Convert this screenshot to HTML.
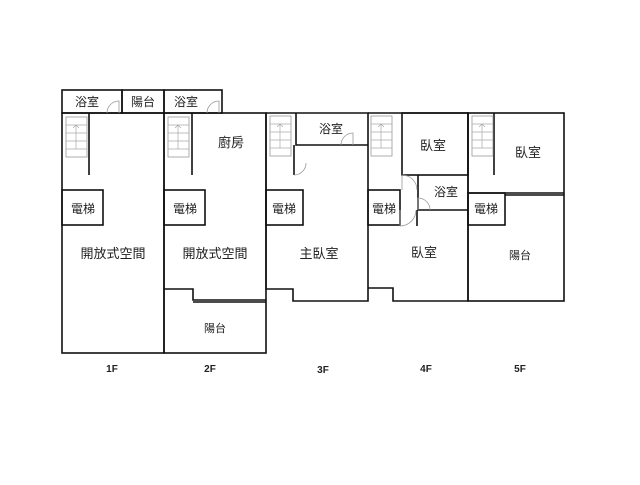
<!DOCTYPE html>
<html><head><meta charset="utf-8"><style>
body{margin:0;background:#fff}
svg text{font-family:"Liberation Sans","Noto Sans CJK TC",sans-serif;fill:#222}
</style></head><body>
<svg width="640" height="480" viewBox="0 0 640 480" xmlns="http://www.w3.org/2000/svg">
<g fill="none" stroke="#111" stroke-width="1.6">
<rect x="62" y="113" width="102" height="240"/>
<rect x="62" y="90" width="60" height="23"/>
<rect x="122" y="90" width="42" height="23"/>
<line x1="89" y1="113" x2="89" y2="175"/>
<rect x="62" y="190" width="41" height="35"/>
<rect x="164" y="113" width="102" height="240"/>
<rect x="164" y="90" width="58" height="23"/>
<line x1="192" y1="113" x2="192" y2="175"/>
<rect x="164" y="190" width="41" height="35"/>
<polyline points="164,289 193,289 193,300 266,300"/>
<line x1="193" y1="302" x2="266" y2="302"/>
<polyline points="266,113 368,113 368,301 293,301 293,289 266,289 266,113"/>
<polyline points="296,113 296,145 368,145"/>
<line x1="294" y1="145" x2="294" y2="175"/>
<rect x="266" y="190" width="37" height="35"/>
<polyline points="368,113 468,113 468,301 393,301 393,288 368,288"/>
<rect x="402" y="113" width="66" height="62"/>
<polyline points="418,175 418,210 468,210"/>
<rect x="368" y="190" width="32" height="35"/>
<line x1="417" y1="210" x2="417" y2="226"/>
<rect x="468" y="113" width="96" height="188"/>
<line x1="494" y1="113" x2="494" y2="175"/>
<polyline points="468,193 564,193"/>
<rect x="468" y="193" width="37" height="32"/>
<line x1="505" y1="195" x2="564" y2="195"/>
</g>
<g fill="#fff" stroke="#999" stroke-width="0.8">
<rect x="66" y="117" width="21" height="40"/><rect x="168" y="117" width="21" height="40"/>
<rect x="270" y="116" width="21" height="40"/><rect x="371" y="116" width="21" height="40"/><rect x="472" y="116" width="21" height="40"/>
</g>
<g stroke="#aaa" stroke-width="0.7" fill="none">
<path d="M66 125h21M66 133h21M66 141h21M66 149h21M76 125v24M73 128l3-3 3 3"/>
<path d="M168 125h21M168 133h21M168 141h21M168 149h21M178 125v24M175 128l3-3 3 3"/>
<path d="M270 124h21M270 132h21M270 140h21M270 148h21M280 124v24M277 127l3-3 3 3"/>
<path d="M371 124h21M371 132h21M371 140h21M371 148h21M381 124v24M378 127l3-3 3 3"/>
<path d="M472 124h21M472 132h21M472 140h21M472 148h21M482 124v24M479 127l3-3 3 3"/>
</g>
<g fill="none" stroke="#999" stroke-width="0.8">
<path d="M107 113a12 12 0 0 1 12 -12v12"/>
<path d="M207 113a12 12 0 0 1 12 -12v12"/>
<path d="M341 145a12 12 0 0 1 12 -12v12"/>
<path d="M294 175a12 12 0 0 0 12 -12"/>
<path d="M402 175v15M402 175a15 15 0 0 1 15 15"/>
<path d="M418 210v-12a12 12 0 0 1 12 12"/>
<path d="M400 210v16a16 16 0 0 0 16 -16"/>
</g>
<g font-size="13" text-anchor="middle">
<text x="87" y="106" font-size="12">浴室</text><text x="143" y="106" font-size="12">陽台</text><text x="186" y="106" font-size="12">浴室</text>
<text x="231" y="147">廚房</text>
<text x="331" y="133" font-size="12">浴室</text>
<text x="433" y="150">臥室</text><text x="528" y="157">臥室</text>
<text x="446" y="196" font-size="12">浴室</text>
<text x="83" y="213" font-size="12">電梯</text><text x="185" y="213" font-size="12">電梯</text><text x="284" y="213" font-size="12">電梯</text><text x="384" y="213" font-size="12">電梯</text><text x="486" y="213" font-size="12">電梯</text>
<text x="113" y="258">開放式空間</text><text x="215" y="258">開放式空間</text>
<text x="319" y="258">主臥室</text><text x="424" y="257">臥室</text>
<text x="520" y="259" font-size="11">陽台</text>
<text x="215" y="332" font-size="11">陽台</text>
</g>
<g font-size="10" font-weight="bold" text-anchor="middle">
<text x="112" y="372">1F</text><text x="210" y="372">2F</text><text x="323" y="373">3F</text><text x="426" y="372">4F</text><text x="520" y="372">5F</text>
</g>
</svg>
</body></html>
